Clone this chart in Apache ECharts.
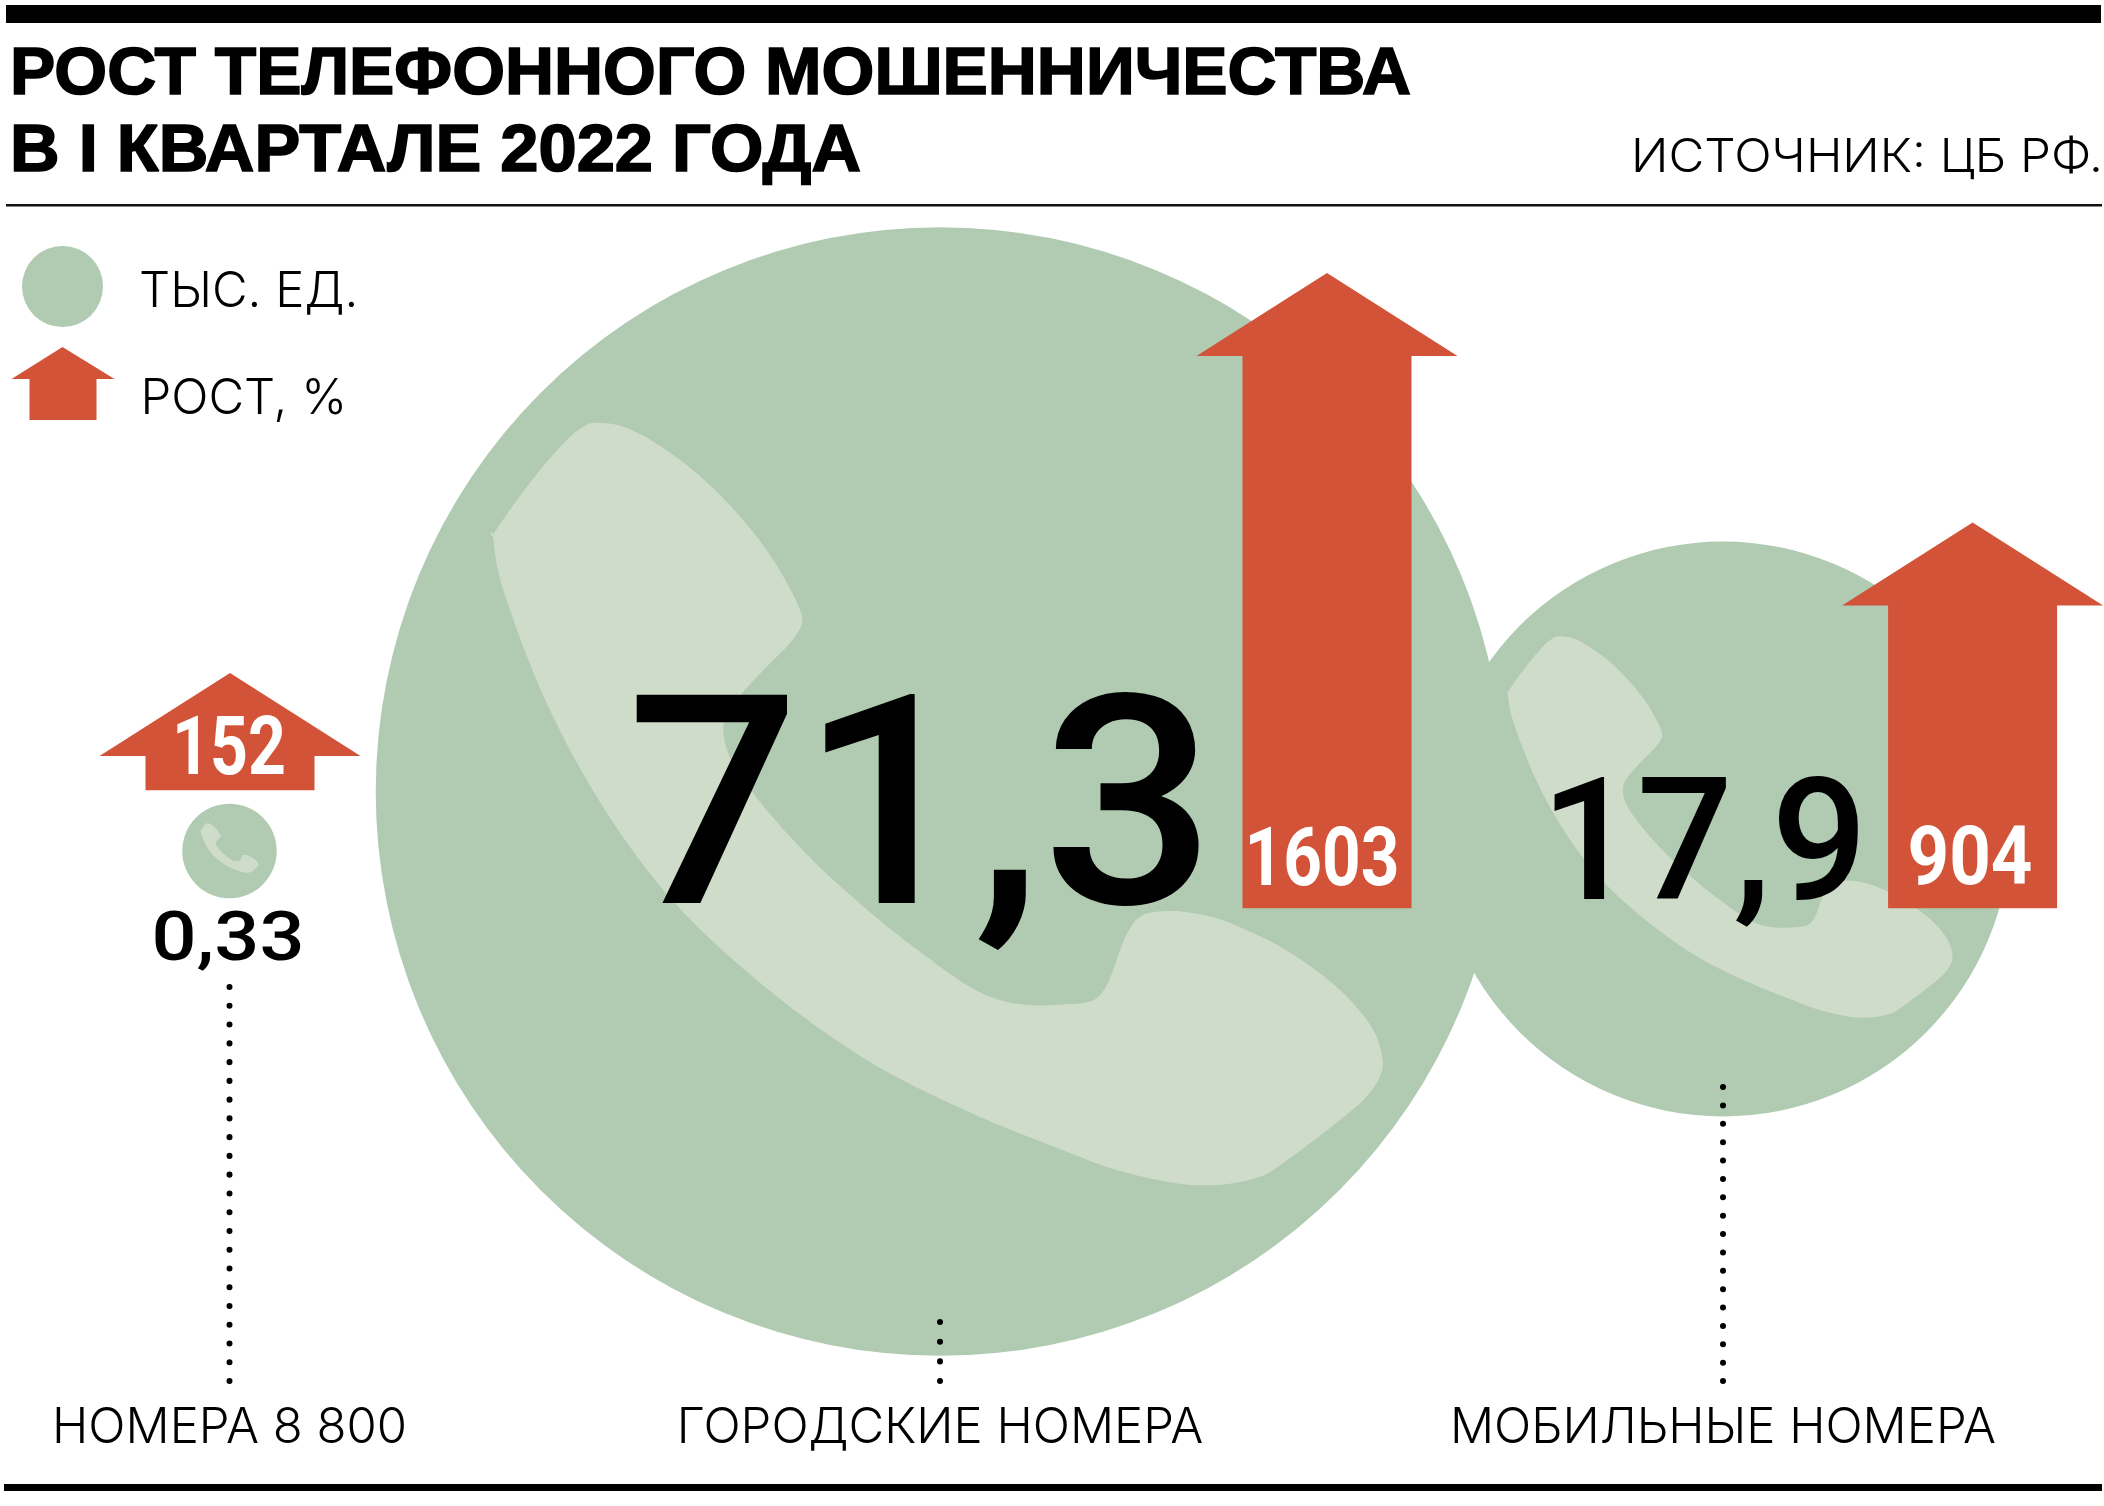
<!DOCTYPE html>
<html><head><meta charset="utf-8">
<style>html,body{margin:0;padding:0;background:#fff}#c{width:2104px;height:1506px}</style>
<script src="https://cdn.jsdelivr.net/npm/echarts@6/dist/echarts.min.js"></script>
</head><body><div id="c"></div>
<script>
// ---- data ----
const categories = ['НОМЕРА 8 800', 'ГОРОДСКИЕ НОМЕРА', 'МОБИЛЬНЫЕ НОМЕРА'];
const thousands = [0.33, 71.3, 17.9];
const thousandsText = ['0,33', '71,3', '17,9'];
const growthPct = [152, 1603, 904];
const titleLines = ['РОСТ ТЕЛЕФОННОГО МОШЕННИЧЕСТВА', 'В I КВАРТАЛЕ 2022 ГОДА'];
const sourceText = 'ИСТОЧНИК: ЦБ РФ.';
const legendCircle = 'ТЫС. ЕД.';
const legendArrow = 'РОСТ, %';

// ---- layout & style ----
const GREEN = '#b0cbb1', PALE = '#d0dcca', RED = '#d25338', INK = '#000';
const LIGHT = 'Inter', HEAVY = '"Liberation Sans"', DIGITS = 'Roboto';
const K_LIB = 0.285, K_INTER = 0.30, K_DIGITS = 0.253;
const colX = [229.5, 940, 1723];
const circleY = [851, 791.5, 829];
const phoneDx = [0, -2.3, 7];
const phoneDy = [-3, 12.5, -2];
const phoneK = [0.065, 1, 0.5];
const arrowDx = [0.5, 387, 249.6];
const gridTop = 200, gridBottom = 1395, gridH = gridBottom - gridTop, gridW = 400;
const pxPerPct = 0.357;
const zeroY = [727.3, 845.3, 845.3];
const FOOT = 63, HEAD = 83, HEADW = 130.5, SHAFTW = 84.5;
const dotTop = [987, 1322, 1087], dotBottom = 1381;
const numStyle = [
  {fs: 68, weight: 500, base: 960, cx: 228, w: 153},
  {fs: 293, weight: 500, base: 904, cx: 921, w: 589},
  {fs: 171, weight: 500, base: 900, cx: 1704, w: 327}
];
const growthStyle = [
  {fs: 82, weight: 700, base: 774, cx: 229, w: 114},
  {fs: 82, weight: 700, base: 885, cx: 1322, w: 155},
  {fs: 82, weight: 700, base: 884, cx: 1970, w: 125}
];
// handset outline (traced in page pixels of the largest circle)
const phoneOutline = [[596.7,422.7],[623.3,426.7],[653.3,441.7],[686.7,465],[720,495],[750,528.3],[773.3,560],[791.7,591.7],[800,610],[802.3,620],[798.3,631.7],[786.7,646.7],[766.7,666.7],[743.3,691.7],[728,712],[723.3,730],[728.3,753.3],[740,775],[763.3,806],[795,842],[833.3,880],[883.3,923.3],[920,951.7],[966.7,985],[1000,1000],[1033,1005.3],[1066.7,1004.3],[1088.3,1002],[1100,995],[1110,978.3],[1120,950],[1130,928.3],[1140,916.7],[1156.7,911.7],[1183,911.7],[1216.7,918.3],[1250,931.7],[1283,948.3],[1320,973.3],[1350,1000],[1373.3,1030],[1382.7,1060],[1378.3,1080],[1363.3,1100],[1340,1120],[1310,1143.3],[1273.3,1170],[1260,1176.7],[1233.3,1183.3],[1200,1185.3],[1166.7,1181.7],[1116.7,1170],[1066.7,1151.7],[966.7,1111],[866.7,1060],[766.7,988.3],[675,903.3],[605,810],[546.7,703.3],[503.3,590],[492.7,535],[492.7,535],[513.3,505],[540,470],[566.7,440],[583.3,426.7]];
const phoneLocal = (function () {
  const P = phoneOutline.map(p => [p[0] - 937.7, p[1] - 804]);
  const out = [], n = P.length;
  for (let i = 0; i < n; i++) {
    const a = P[(i - 1 + n) % n], b = P[i], c = P[(i + 1) % n], d = P[(i + 2) % n];
    for (let k = 0; k < 8; k++) {
      const t = k / 8, t2 = t * t, t3 = t2 * t;
      out.push([0, 1].map(j => 0.5 * (2 * b[j] + (c[j] - a[j]) * t + (2 * a[j] - 5 * b[j] + 4 * c[j] - d[j]) * t2 + (3 * b[j] - a[j] - 3 * c[j] + d[j]) * t3)));
    }
  }
  return out;
})();

const radiusOf = v => 9.5 + 65.7 * Math.sqrt(v);

const mctx = document.createElement('canvas').getContext('2d');
function fitScale(text, font, width) { mctx.font = font; return width / mctx.measureText(text).width; }
function textEl(text, s, fill) {
  const font = s.weight + ' ' + s.fs + 'px ' + DIGITS;
  return {
    type: 'text', x: s.cx, y: s.base - K_DIGITS * s.fs, scaleX: fitScale(text, font, s.w), silent: true,
    style: {text, font, fill, textAlign: 'center', textVerticalAlign: 'middle'}
  };
}

const grids = [], xAxes = [], yAxes = [], series = [];
categories.forEach((cat, i) => {
  grids.push({left: colX[i] - gridW / 2, width: gridW, top: gridTop, height: gridH});
  xAxes.push({type: 'category', gridIndex: i, data: [cat], boundaryGap: true,
    axisLine: {show: false}, axisTick: {show: false}, splitLine: {show: false},
    axisLabel: {interval: 0, margin: 9, color: INK, fontFamily: LIGHT, fontWeight: 300, fontSize: 49, hideOverlap: false}});
  const yMin = -(gridBottom - zeroY[i]) / pxPerPct;
  yAxes.push({type: 'value', gridIndex: i, show: false, min: yMin, max: yMin + gridH / pxPerPct});
  series.push({
    type: 'custom', name: legendCircle, xAxisIndex: i, yAxisIndex: i, z: 2 + (i === 1 ? 0 : 1), clip: false, silent: true,
    itemStyle: {color: GREEN}, encode: {x: 0, y: 1},
    data: [[0, thousands[i]]],
    renderItem(params, api) {
      const c = api.coord([0, 0]), v = api.value(1), r = radiusOf(v), k = phoneK[i];
      const px = c[0] + phoneDx[i], py = circleY[i] + phoneDy[i];
      const span = dotBottom - dotTop[i];
      return {type: 'group', children: [
        {type: 'circle', shape: {cx: c[0], cy: circleY[i], r}, style: {fill: GREEN}},
        {type: 'polygon', shape: {points: phoneLocal.map(p => [px + p[0] * k, py + p[1] * k])}, style: {fill: PALE}},
        {type: 'line', shape: {x1: c[0], y1: dotTop[i], x2: c[0], y2: dotBottom + 1},
          style: {stroke: INK, lineWidth: 6, lineCap: 'round', lineDash: [0.1, span / Math.round(span / 18.7) - 0.1]}},
        textEl(thousandsText[i], numStyle[i], INK)
      ]};
    }
  });
  series.push({
    type: 'custom', name: legendArrow, xAxisIndex: i, yAxisIndex: i, z: 6, clip: false, silent: true,
    itemStyle: {color: RED}, encode: {x: 0, y: 1},
    data: [[0, growthPct[i]]],
    renderItem(params, api) {
      const g = api.value(1), top = api.coord([0, g]), zero = api.coord([0, 0]);
      const x = top[0] + arrowDx[i], y = top[1], b = zero[1] + FOOT, h = y + HEAD;
      return {type: 'group', children: [
        {type: 'polygon', shape: {points: [[x, y], [x + HEADW, h], [x + SHAFTW, h], [x + SHAFTW, b], [x - SHAFTW, b], [x - SHAFTW, h], [x - HEADW, h]]}, style: {fill: RED}},
        textEl(String(g), growthStyle[i], '#fff')
      ]};
    }
  });
});

function plainText(text, font, fs, left, width, base, fill, kb, extra) {
  mctx.font = font;
  const k = width / mctx.measureText(text).width;
  return {type: 'text', x: left, y: base - kb * fs, scaleX: k, z: 10, silent: true,
    style: Object.assign({text, font, fill, textAlign: 'left', textVerticalAlign: 'middle'}, extra || {})};
}
const titleFont = 'bold 66px ' + HEAVY, srcFont = '300 47px ' + LIGHT;
const graphic = [
  {type: 'rect', shape: {x: 6, y: 5, width: 2095, height: 18}, style: {fill: INK}},
  {type: 'rect', shape: {x: 6, y: 204, width: 2096, height: 2.6}, style: {fill: '#111'}},
  {type: 'rect', shape: {x: 4, y: 1484, width: 2098, height: 7}, style: {fill: INK}},
  plainText(titleLines[0], titleFont, 66, 10, 1401, 95, INK, K_LIB, {stroke: INK, lineWidth: 1.6}),
  plainText(titleLines[1], titleFont, 66, 10, 851, 172, INK, K_LIB, {stroke: INK, lineWidth: 1.6}),
  plainText(sourceText, srcFont, 47, 1631, 472, 172, INK, K_INTER)
];

const legendText = {fontFamily: LIGHT, fontWeight: 300, fontSize: 49, color: INK};
const chart = echarts.init(document.getElementById('c'), null, {width: 2104, height: 1506});
chart.setOption({
  animation: false, backgroundColor: '#fff',
  grid: grids, xAxis: xAxes, yAxis: yAxes, series, graphic,
  legend: [
    {data: [legendCircle], left: 22, top: 246, icon: 'circle', itemWidth: 81, itemHeight: 81, itemGap: 0, selectedMode: false,
      itemStyle: {color: GREEN}, padding: 0, formatter: '{t|{name}}',
      textStyle: {padding: [0, 0, 0, 31], rich: {t: Object.assign({padding: [11, 0, 0, 0]}, legendText)}}},
    {data: [legendArrow], left: 11.5, top: 347, icon: 'path://M51 0L103 32H85V73H18V32H0Z', itemWidth: 103, itemHeight: 73, selectedMode: false,
      itemStyle: {color: RED}, padding: 0, formatter: '{t|{name}}',
      textStyle: {padding: [0, 0, 0, 21], rich: {t: Object.assign({padding: [31, 0, 0, 0]}, legendText)}}}
  ]
});
</script></body></html>
